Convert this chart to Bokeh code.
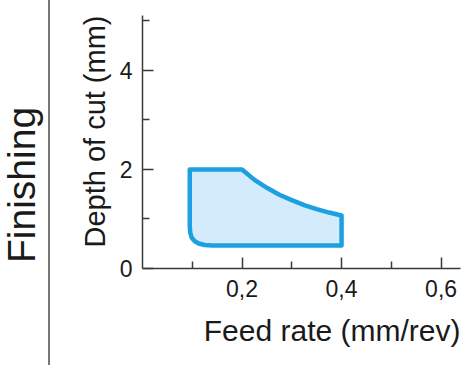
from bokeh.plotting import figure
from bokeh.models import FixedTicker, Title, Div
from bokeh.layouts import row
from bokeh.embed import file_html
from bokeh.resources import INLINE

# Outline of the finishing region (feed rate mm/rev, depth of cut mm)
feed = [0.095, 0.2, 0.225, 0.25, 0.275, 0.30, 0.325, 0.35, 0.375, 0.4,
        0.4, 0.14, 0.125, 0.113, 0.105, 0.099, 0.096, 0.095]
depth = [2.0, 2.0, 1.79, 1.63, 1.49, 1.38, 1.28, 1.20, 1.13, 1.07,
         0.465, 0.465, 0.475, 0.505, 0.55, 0.62, 0.72, 0.85]

x_ticks = [0.2, 0.4, 0.6]
x_minor = [0.1, 0.3, 0.5]
x_labels = ["0,2", "0,4", "0,6"]
y_ticks = [0, 2, 4]
y_minor = [1, 3, 5]
section = "Finishing"

FONT = "Liberation Sans"
AX = "#3a3a3a"
TXT = "#1a1a1a"
H = 365

# Left strip: section title and separator line
side_html = (
    '<div style="position:relative;width:50px;height:%dpx;">' % H
    + '<div style="position:absolute;left:48px;top:0;width:1.5px;'
      'height:%dpx;background:#777777"></div>' % H
    + '<div style="position:absolute;left:0;top:0;white-space:nowrap;'
      "font-family:'Liberation Sans';font-size:39px;line-height:39px;"
      'color:%s;transform-origin:0 0;'
      'transform:translate(2px,263px) rotate(-90deg)">%s</div>' % (TXT, section)
    + '</div>'
)
side = Div(text=side_html, width=50, height=H, margin=(0, 0, 0, 0))

p = figure(width=421, height=H, x_range=(0, 0.639), y_range=(0, 5.11),
           output_backend="svg", toolbar_location=None,
           min_border_left=92, min_border_right=11, min_border_top=15,
           min_border_bottom=97)
p.outline_line_color = None
p.grid.visible = False

p.patch(feed, depth, fill_color="#d3ebfa", line_color="#1ba1e2",
        line_width=4.5, line_join="round")

xa = p.xaxis[0]
xa.ticker = FixedTicker(ticks=x_ticks, minor_ticks=x_minor)
xa.major_label_overrides = {t: l for t, l in zip(x_ticks, x_labels)}

ya = p.yaxis[0]
ya.ticker = FixedTicker(ticks=y_ticks, minor_ticks=y_minor)

for ax in (xa, ya):
    ax.axis_line_color = AX
    ax.axis_line_width = 1.5
    ax.major_tick_line_color = AX
    ax.minor_tick_line_color = AX
    ax.major_tick_line_width = 1.5
    ax.minor_tick_line_width = 1.5
    ax.major_tick_in = 11
    ax.major_tick_out = 0
    ax.minor_tick_in = 7
    ax.minor_tick_out = 0
    ax.major_label_text_font = FONT
    ax.major_label_text_font_size = "23px"
    ax.major_label_text_color = TXT

xa.major_label_standoff = 11
ya.major_label_standoff = 10
ya.major_label_orientation = "horizontal"

p.add_layout(Title(text="Feed rate (mm/rev)", align="right",
                   text_font=FONT, text_font_size="30px",
                   text_font_style="normal", text_color=TXT,
                   standoff=24), "below")
p.add_layout(Title(text="Depth of cut (mm)", align="right",
                   text_font=FONT, text_font_size="29px",
                   text_font_style="normal", text_color=TXT,
                   standoff=12), "left")

layout = row(side, p, spacing=0)
open("out.html", "w").write(file_html(layout, INLINE))
